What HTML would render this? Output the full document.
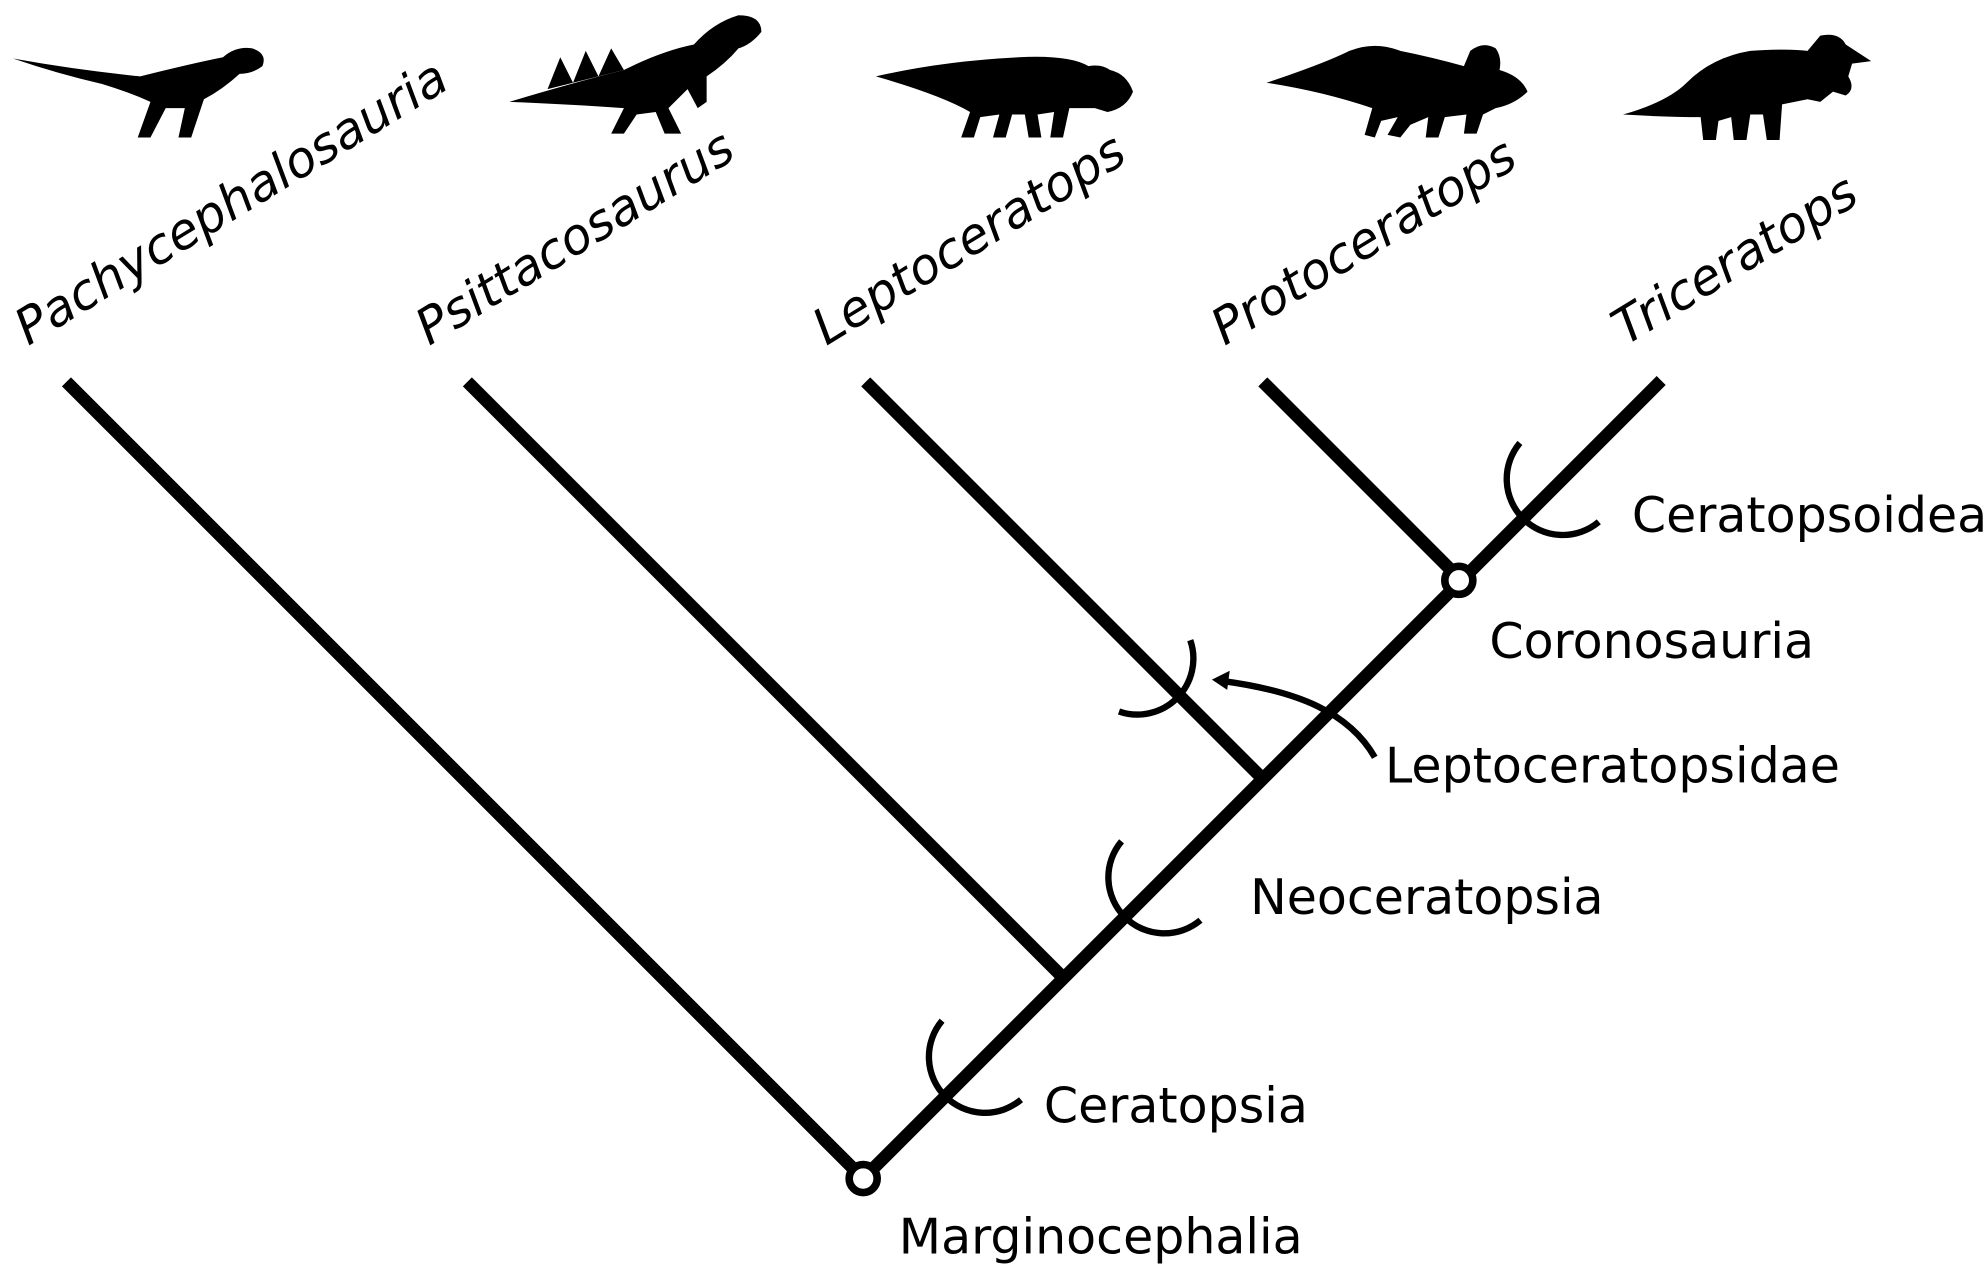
<!DOCTYPE html>
<html><head><meta charset="utf-8"><style>html,body{margin:0;padding:0;background:#fff}svg{display:block}</style></head>
<body>
<svg width="1986" height="1274" viewBox="0 0 1560 1001" xmlns="http://www.w3.org/2000/svg">
<g stroke="#000" stroke-width="10" fill="none" stroke-linecap="butt">
<line x1="52" y1="300" x2="678" y2="926"/>
<line x1="678" y1="926" x2="1305" y2="299"/>
<line x1="367" y1="300" x2="835" y2="768"/>
<line x1="680" y1="300" x2="992" y2="612"/>
<line x1="992" y1="300" x2="1146" y2="454"/>
</g>
<g stroke="#000" stroke-width="5" fill="none">
<path d="M740 802 A44 44 0 0 0 802 864"/>
<path d="M881 661 A44 44 0 0 0 943 723"/>
<path d="M1194 348 A44 44 0 0 0 1256 410"/>
<path d="M935 503 A44 44 0 0 1 879 559"/>
<path d="M1080 595 C1060 560 1020 543 960 535"/>
</g>
<path d="M952 534 L966 527 L964 542 Z" fill="#000"/>
<circle cx="678" cy="926" r="11" fill="#fff" stroke="#000" stroke-width="6"/>
<circle cx="1146" cy="456" r="11" fill="#fff" stroke="#000" stroke-width="6"/>
<g font-family="'DejaVu Sans','Liberation Sans',sans-serif" font-size="38.5" fill="#000">
<text x="820" y="882">Ceratopsia</text>
<text x="982" y="718">Neoceratopsia</text>
<text x="1088" y="615">Leptoceratopsidae</text>
<text x="1170" y="517">Coronosauria</text>
<text x="1282" y="418">Ceratopsoidea</text>
<text x="706" y="985">Marginocephalia</text>
</g>
<g font-family="'DejaVu Sans','Liberation Sans',sans-serif" font-size="39" font-style="italic" fill="#000">
<text transform="translate(22,272) rotate(-31.5)">Pachycephalosauria</text>
<text transform="translate(337,272) rotate(-31.5)">Psittacosaurus</text>
<text transform="translate(649,272) rotate(-31.5)">Leptoceratops</text>
<text transform="translate(962,272) rotate(-31.5)">Protoceratops</text>
<text transform="translate(1277,272) rotate(-31.5)">Triceratops</text>
</g>
<g fill="#000">
<path d="M10 46 Q60 55 110 60 Q150 50 175 45 Q185 36 198 38 Q210 42 206 52 Q198 58 188 58 Q175 70 160 78 L150 108 L140 108 L145 85 L130 85 L118 108 L108 108 L118 80 Q100 72 80 66 Q45 58 10 46 Z"/>
<path d="M400 80 Q450 65 490 55 Q520 40 545 35 Q560 18 580 12 Q598 12 598 25 Q590 35 580 38 Q570 50 555 60 L555 80 L548 85 L540 70 L525 85 L535 105 L522 105 L515 88 L500 90 L490 105 L480 105 L490 85 Q450 82 400 80 Z"/>
<path d="M430 70 L440 45 L450 65 L460 40 L470 60 L480 38 L490 55 Z"/>
<path d="M688 60 Q740 48 800 45 Q840 43 855 52 Q865 50 872 55 Q885 58 890 72 Q885 85 870 88 L860 85 L840 85 L835 108 L825 108 L828 88 L815 90 L818 108 L808 108 L805 90 L795 90 L790 108 L780 108 L785 90 L770 92 L765 108 L755 108 L762 88 Q740 75 688 60 Z"/>
<path d="M995 65 Q1040 50 1060 40 Q1080 32 1100 40 Q1125 45 1150 52 L1155 40 Q1165 32 1175 38 Q1180 45 1178 55 Q1195 60 1200 72 Q1190 82 1175 85 L1165 90 L1160 105 L1150 105 L1152 90 L1135 92 L1130 108 L1120 108 L1122 92 L1108 98 L1100 108 L1090 106 L1098 92 L1085 95 L1080 108 L1072 106 L1078 85 Q1040 72 995 65 Z"/>
<path d="M1275 90 Q1310 80 1325 65 Q1345 45 1375 40 Q1405 38 1420 40 L1430 28 Q1445 25 1450 35 L1470 48 L1455 50 L1452 60 Q1458 70 1450 75 L1440 72 L1430 80 L1420 78 L1400 82 L1398 110 L1388 110 L1385 90 L1375 90 L1372 110 L1362 110 L1360 92 L1350 95 L1348 110 L1338 110 L1336 92 Q1310 92 1275 90 Z"/>
</g>
</svg>
</body></html>
